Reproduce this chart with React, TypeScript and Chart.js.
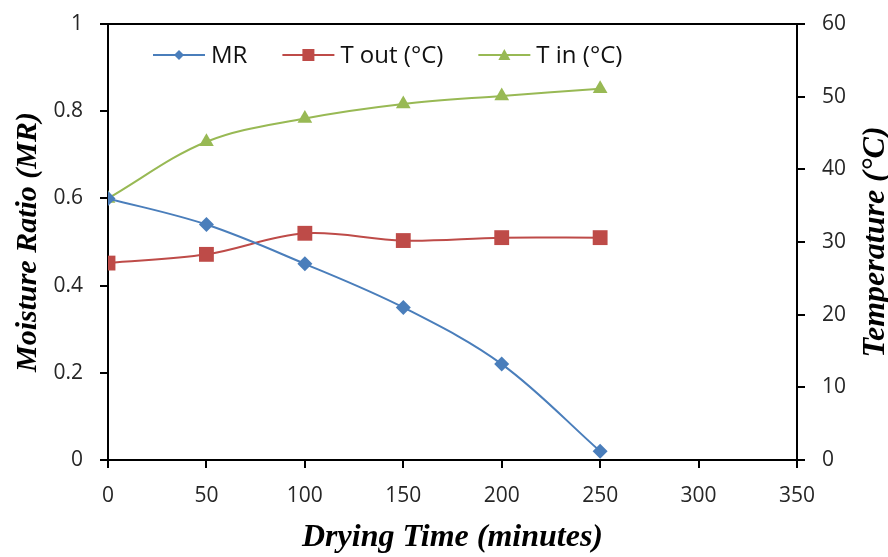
import React, { useEffect, useRef } from "react";
import { Chart, registerables } from "chart.js";

Chart.register(...registerables);

const timeMin = [0, 50, 100, 150, 200, 250];
const moistureRatio = [0.6, 0.54, 0.45, 0.35, 0.22, 0.02];
const tempOut = [27.1, 28.3, 31.2, 30.2, 30.6, 30.6];
const tempIn = [36, 43.8, 47, 49, 50.1, 51.1];

const seriesNames = ["MR", "T out (°C)", "T in (°C)"];
const colors = ["#4A7EBB", "#BE4B48", "#98B954"];
const pointStyles = ["rectRot", "rect", "triangle"];

const xTitle = "Drying Time (minutes)";
const yLeftTitle = "Moisture Ratio (MR)";
const yRightTitle = "Temperature (°C)";

const tickFont = { family: "'Open Sans', sans-serif", size: 21 };
const serif = "'Liberation Serif', serif";

const legendPlugin = {
  id: "customLegend",
  afterDraw(chart: any) {
    const { ctx, chartArea } = chart;
    ctx.save();
    ctx.font = "24px 'Open Sans', sans-serif";
    ctx.textBaseline = "middle";
    let x = chartArea.left + 45;
    const y = chartArea.top + 31;
    const lineLen = 52;
    seriesNames.forEach((name, i) => {
      ctx.strokeStyle = colors[i];
      ctx.lineWidth = 2;
      ctx.beginPath();
      ctx.moveTo(x, y);
      ctx.lineTo(x + lineLen, y);
      ctx.stroke();
      ctx.fillStyle = colors[i];
      const cx = x + lineLen / 2;
      if (pointStyles[i] === "rectRot") {
        ctx.beginPath();
        ctx.moveTo(cx - 5, y);
        ctx.lineTo(cx, y - 5);
        ctx.lineTo(cx + 5, y);
        ctx.lineTo(cx, y + 5);
        ctx.closePath();
        ctx.fill();
      } else if (pointStyles[i] === "rect") {
        ctx.fillRect(cx - 6, y - 6, 12, 12);
      } else {
        ctx.beginPath();
        ctx.moveTo(cx, y - 6);
        ctx.lineTo(cx + 6, y + 5);
        ctx.lineTo(cx - 6, y + 5);
        ctx.closePath();
        ctx.fill();
      }
      ctx.fillStyle = "#111";
      ctx.fillText(name, x + lineLen + 6, y + 1);
      x += lineLen + 6 + ctx.measureText(name).width + 35;
    });
    // top border
    ctx.strokeStyle = "#000";
    ctx.lineWidth = 2;
    ctx.beginPath();
    ctx.moveTo(chartArea.left - 8, chartArea.top);
    ctx.lineTo(chartArea.right + 8, chartArea.top);
    ctx.stroke();
    // right axis title, reading bottom-to-top
    ctx.font = `italic bold 32px ${serif}`;
    ctx.fillStyle = "#000";
    ctx.textAlign = "center";
    ctx.textBaseline = "middle";
    ctx.translate(chart.width - 12, (chartArea.top + chartArea.bottom) / 2);
    ctx.rotate(-Math.PI / 2);
    ctx.fillText(yRightTitle, 0, 0);
    ctx.restore();
  },
};

export default function App() {
  const canvasRef = useRef<HTMLCanvasElement>(null);

  useEffect(() => {
    document.body.style.margin = "0";
    const canvas = canvasRef.current;
    if (!canvas) return;
    const mk = (vals: number[]) => timeMin.map((t, i) => ({ x: t, y: vals[i] }));
    const common = { borderWidth: 2, pointBorderWidth: 0, tension: 0.35 };
    const chart = new Chart(canvas, {
      type: "line",
      data: {
        datasets: [
          {
            label: seriesNames[0],
            data: mk(moistureRatio),
            borderColor: colors[0],
            backgroundColor: colors[0],
            pointStyle: "rectRot",
            pointRadius: 7.5,
            yAxisID: "y",
            ...common,
          },
          {
            label: seriesNames[1],
            data: mk(tempOut),
            borderColor: colors[1],
            backgroundColor: colors[1],
            pointStyle: "rect",
            pointRadius: 10.5,
            yAxisID: "y1",
            ...common,
          },
          {
            label: seriesNames[2],
            data: mk(tempIn),
            borderColor: colors[2],
            backgroundColor: colors[2],
            pointStyle: "triangle",
            pointRadius: 8.5,
            yAxisID: "y1",
            ...common,
          },
        ],
      },
      options: {
        animation: false,
        responsive: false,
        maintainAspectRatio: false,
        layout: { padding: { top: 24, left: 0, right: 0, bottom: 0 } },
        plugins: { legend: { display: false }, tooltip: { enabled: false } },
        scales: {
          x: {
            type: "linear",
            min: 0,
            max: 350,
            ticks: { stepSize: 50, font: tickFont, color: "#262626", padding: 15 },
            grid: { drawOnChartArea: false, tickLength: 8, color: "#000", lineWidth: 2 },
            border: { color: "#000", width: 2 },
            title: {
              display: true,
              text: xTitle,
              font: { family: serif, size: 32, weight: "bold", style: "italic" },
              color: "#000",
              padding: { top: 0, bottom: 0 },
            },
            afterFit: (s: any) => { s.height = 97; },
          },
          y: {
            position: "left",
            min: 0,
            max: 1,
            ticks: {
              stepSize: 0.2,
              font: tickFont,
              color: "#262626",
              padding: 17,
              callback: (v: any) => String(Number(Number(v).toFixed(1))),
            },
            grid: { drawOnChartArea: false, tickLength: 8, color: "#000", lineWidth: 2 },
            border: { color: "#000", width: 2 },
            title: {
              display: true,
              text: yLeftTitle,
              font: { family: serif, size: 30, weight: "bold", style: "italic" },
              color: "#000",
              padding: { top: 10, bottom: 0 },
            },
            afterFit: (s: any) => { s.width = 108; s.paddingTop = 0; s.paddingBottom = 0; },
          },
          y1: {
            position: "right",
            min: 0,
            max: 60,
            ticks: { stepSize: 10, font: tickFont, color: "#262626", padding: 17 },
            grid: { drawOnChartArea: false, tickLength: 8, color: "#000", lineWidth: 2 },
            border: { color: "#000", width: 2 },
            afterFit: (s: any) => { s.width = 91; s.paddingTop = 0; s.paddingBottom = 0; },
          },
        },
      },
      plugins: [legendPlugin],
    } as any);
    return () => chart.destroy();
  }, []);

  return <canvas ref={canvasRef} width={888} height={557} style={{ display: "block" }} />;
}
